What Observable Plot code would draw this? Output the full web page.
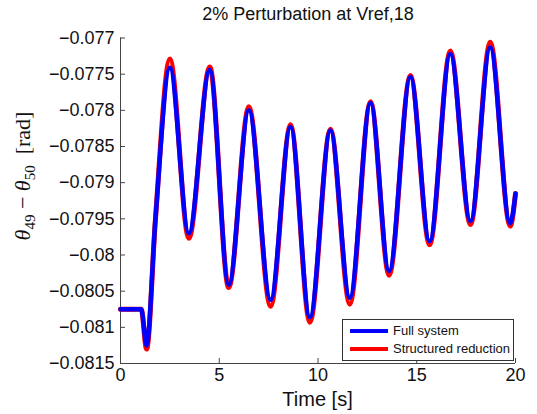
<!DOCTYPE html>
<html>
<head>
<meta charset="utf-8">
<script src="https://cdn.jsdelivr.net/npm/d3@7"></script>
<script src="https://cdn.jsdelivr.net/npm/@observablehq/plot@0.6"></script>
<style>
  html, body { margin: 0; padding: 0; background: white; }
  #wrap { position: relative; width: 537px; height: 414px; font-family: "Liberation Sans", Arial, Helvetica, sans-serif; }
  #title { position: absolute; top: 0; left: 308px; transform: translateX(-50%); white-space: nowrap; font-size: 18px; line-height: 28px; color: #111; }
  #legend { position: absolute; left: 342px; top: 319px; width: 170px; height: 40px; border: 1px solid #333; background: white; font-size: 13px; color: #111; }
  .lg-row { position: absolute; left: 0; height: 16px; width: 170px; }
  .lg-sw { position: absolute; left: 7px; top: 6px; width: 38px; height: 4px; }
  .lg-tx { position: absolute; left: 50px; top: 0; line-height: 16px; white-space: nowrap; }
</style>
</head>
<body>
<div id="wrap">
  <div id="chart"></div>
  <div id="title">2% Perturbation at Vref,18</div>
  <div id="legend"></div>
</div>
<script>
// Data (time in s, angle difference in rad)
const times       = [0, 1.05, 1.32, 1.77, 2.5, 3.46, 4.52, 5.48, 6.5, 7.6, 8.61, 9.59, 10.63, 11.61, 12.66, 13.6, 14.68, 15.65, 16.7, 17.72, 18.72, 19.73, 20];
const fullSystem  = [-0.08075, -0.08075, -0.08125, -0.0795, -0.07741, -0.0797, -0.07744, -0.08041, -0.0780, -0.08062, -0.07823, -0.08086, -0.07828, -0.08059, -0.0779, -0.08022, -0.07754, -0.07981, -0.07722, -0.07953, -0.07713, -0.07956, -0.07915];
const structured  = [-0.08075, -0.08075, -0.0813, -0.0795, -0.07729, -0.07977, -0.0774, -0.08045, -0.07795, -0.08071, -0.0782, -0.08093, -0.07826, -0.08068, -0.07788, -0.08028, -0.07752, -0.07986, -0.07718, -0.07958, -0.07706, -0.0796, -0.07915];
const seriesNames = ["Full system", "Structured reduction"];
const seriesColors = ["#0000ff", "#ff0000"];
const xTicks = [0, 5, 10, 15, 20];
const xTickLabels = ["0", "5", "10", "15", "20"];
const yTicks = [-0.077, -0.0775, -0.078, -0.0785, -0.079, -0.0795, -0.08, -0.0805, -0.081, -0.0815];
const yTickLabels = ["\u22120.077", "\u22120.0775", "\u22120.078", "\u22120.0785", "\u22120.079", "\u22120.0795", "\u22120.08", "\u22120.0805", "\u22120.081", "\u22120.0815"];

const data = times.map((t, i) => ({t, full: fullSystem[i], red: structured[i]}));
const xLab = new Map(xTicks.map((v, i) => [v, xTickLabels[i]]));
const yLab = new Map(yTicks.map((v, i) => [v, yTickLabels[i]]));

const W = 537, H = 414, mL = 120, mR = 22, mT = 37.5, mB = 51;
const fw = W - mL - mR, fh = H - mT - mB;
const axisColor = "#444";

const chart = Plot.plot({
  width: W, height: H,
  marginLeft: mL, marginRight: mR, marginTop: mT, marginBottom: mB,
  style: {fontFamily: '"Liberation Sans", Arial, Helvetica, sans-serif', fontSize: "18px", color: "#111", background: "white", overflow: "visible"},
  x: {domain: [0, 20]},
  y: {domain: [-0.0815, -0.077]},
  marks: [
    Plot.axisX({ticks: xTicks, tickSize: 0, tickPadding: 5, tickFormat: d => xLab.get(d), label: null, fontSize: 18}),
    Plot.axisY({ticks: yTicks, tickSize: 0, tickPadding: 6, tickFormat: d => yLab.get(d), label: null, fontSize: 18}),
    Plot.tickX(xTicks, {x: d => d, insetTop: fh - 5, stroke: axisColor}),
    Plot.tickY(yTicks, {y: d => d, insetRight: fw - 5, stroke: axisColor}),
    Plot.ruleX([0], {stroke: axisColor}),
    Plot.ruleY([-0.0815], {stroke: axisColor}),
    Plot.line(data, {x: "t", y: "red", stroke: seriesColors[1], strokeWidth: 5, curve: "monotone-x"}),
    Plot.line(data, {x: "t", y: "full", stroke: seriesColors[0], strokeWidth: 4.5, curve: "monotone-x"})
  ]
});
document.getElementById("chart").appendChild(chart);

// axis titles
const svg = d3.select(chart);
svg.append("text")
  .attr("x", mL + fw / 2).attr("y", 406)
  .attr("text-anchor", "middle")
  .attr("font-size", 20)
  .attr("fill", "#111")
  .text("Time [s]");

const yl = svg.append("text")
  .attr("transform", "translate(30,176) rotate(-90)")
  .attr("text-anchor", "middle")
  .attr("font-family", '"Liberation Serif", "DejaVu Serif", serif')
  .attr("font-size", 22)
  .attr("fill", "#111")
  .style("white-space", "pre");
yl.append("tspan").attr("font-style", "italic").text("\u03b8");
yl.append("tspan").attr("font-size", 15).attr("dy", 5).text("49");
yl.append("tspan").attr("dy", -5).text(" \u2212 ");
yl.append("tspan").attr("font-style", "italic").text("\u03b8");
yl.append("tspan").attr("font-size", 15).attr("dy", 5).text("50");
yl.append("tspan").attr("dy", -5).text("  [rad]");

// legend
const lg = document.getElementById("legend");
seriesNames.forEach((name, i) => {
  const row = document.createElement("div");
  row.className = "lg-row";
  row.style.top = (3 + i * 18) + "px";
  const sw = document.createElement("div");
  sw.className = "lg-sw";
  sw.style.background = seriesColors[i];
  const tx = document.createElement("div");
  tx.className = "lg-tx";
  tx.textContent = name;
  row.appendChild(sw); row.appendChild(tx);
  lg.appendChild(row);
});
</script>
</body>
</html>
